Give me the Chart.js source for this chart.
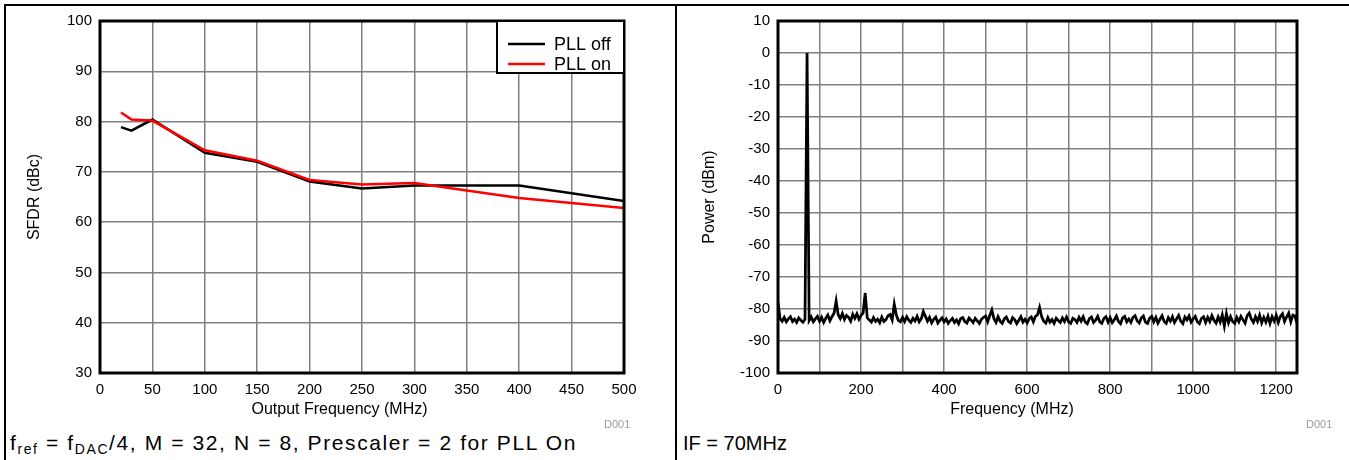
<!DOCTYPE html>
<html>
<head>
<meta charset="utf-8">
<script src="https://cdn.jsdelivr.net/npm/chart.js@4.4.1/dist/chart.umd.min.js"></script>
<style>
  body { margin: 0; background: #fff; font-family: "Liberation Sans", Arial, sans-serif; }
  #page { position: relative; width: 1349px; height: 460px; overflow: hidden; }
  .rule { position: absolute; background: #000; z-index: 2; }
  .box { position: absolute; top: 4px; height: 426px; }
  .note { position: absolute; top: 432px; font-size: 20px; color: #000; white-space: nowrap; }
  .note sub { font-size: 14px; vertical-align: -4px; line-height: 0; }
  .wide { letter-spacing: 1.6px; font-size: 21px; top: 431px; }
  .tag { position: absolute; top: 418px; font-size: 11px; color: #9a9a9a; }
</style>
</head>
<body>
<div id="page">
  <div class="rule" style="left:4px; top:4px; width:1345px; height:1.5px;"></div>
  <div class="rule" style="left:4px; top:4px; width:1.5px; height:456px;"></div>
  <div class="rule" style="left:675px; top:4px; width:1.5px; height:456px;"></div>

  <div class="box" style="left:4px; width:671px;"><canvas id="sfdrChart"></canvas></div>
  <div class="box" style="left:675px; width:674px;"><canvas id="specChart"></canvas></div>

  <div class="tag" style="left:604px;">D001</div>
  <div class="tag" style="left:1306px;">D001</div>
  <div class="note wide" style="left:10px;">f<sub>ref</sub> = f<sub>DAC</sub>/4, M = 32, N = 8, Prescaler = 2 for PLL On</div>
  <div class="note" style="left:683px;">IF = 70MHz</div>
</div>

<script>
// left plot: SFDR vs output frequency
const sfdrFreq   = [20, 30, 50, 100, 150, 200, 250, 300, 400, 500];
const sfdrPllOff = [78.9, 78.2, 80.4, 73.8, 72.0, 68.1, 66.7, 67.3, 67.3, 64.2];
const sfdrPllOn  = [81.8, 80.4, 80.2, 74.3, 72.2, 68.4, 67.5, 67.8, 64.8, 62.8];
const sfdrXTicks = [0, 50, 100, 150, 200, 250, 300, 350, 400, 450, 500];
const sfdrYTicks = [30, 40, 50, 60, 70, 80, 90, 100];

// right plot: output spectrum, one reading every 5 MHz from 0 to 1250 MHz
const specStepMHz = 5;
const specPower = [
  -78, -83, -83.8, -82.6, -84, -83.1, -82.4, -83.9, -83.2, -84.2,           // 0
  -82.8, -83.5, -84.1, -83.2, 0, -83.6, -82.5, -84, -83.1, -82.3,           // 50
  -83.8, -82.6, -84.2, -82.9, -81.9, -83.7, -82.4, -81.3, -77.5, -81.8,     // 100
  -83, -81.4, -83.3, -82, -82.6, -83.8, -81.6, -82.9, -81.5, -83.2,         // 150
  -82, -81.2, -75, -82.8, -83.4, -84.1, -82.7, -83.9, -83.2, -84.3,         // 200
  -82.5, -83.9, -83.3, -82.1, -81.7, -83.4, -78.5, -81.9, -83.6, -84,       // 250
  -82.6, -83.9, -82.4, -83.5, -84.2, -82.9, -83.7, -82.3, -84, -83.1,       // 300
  -80.8, -82.3, -83.8, -82.6, -84.3, -83.2, -82.5, -84.4, -83.5, -82.8,     // 350
  -84, -83.1, -84.5, -83.6, -82.9, -84.2, -83.4, -84.6, -83, -82.7,         // 400
  -83.9, -84.4, -82.8, -83.5, -84.3, -82.9, -83.7, -84.5, -83.2, -82.6,     // 450
  -82.2, -84, -82, -80.3, -83, -84.2, -82.4, -83.8, -84.5, -83.1,           // 500
  -82.5, -83.9, -84.4, -82.7, -83.3, -84.6, -83.5, -82.4, -84.1, -83.2,     // 550
  -84.3, -83, -82.5, -84, -82.3, -81.8, -79.5, -82.4, -83.8, -84.4,         // 600
  -82.7, -84.1, -83.3, -84.5, -82.9, -83.6, -84.2, -82.8, -83.9, -82.5,     // 650
  -84, -84.5, -82.9, -83.3, -84.2, -82.6, -83.8, -82.4, -84.1, -84.6,       // 700
  -83, -82.5, -84.2, -83.5, -82.3, -84, -84.5, -82.9, -82.4, -84.1,         // 750
  -82.7, -84.3, -83.4, -82.2, -83.9, -84.6, -82.8, -82.3, -84, -83.1,       // 800
  -84.2, -82.6, -82.1, -83.7, -84.4, -82.8, -82.2, -84.1, -84.5, -82.9,     // 850
  -82.3, -84, -82.6, -84.4, -83.2, -82.1, -83.9, -84.5, -82.7, -83.8,       // 900
  -82.4, -84.2, -83.1, -82, -83.8, -84.6, -82.5, -83.4, -82.2, -84.1,       // 950
  -83.1, -82.3, -84, -84.6, -82.9, -82.4, -84.2, -82.6, -83.9, -82.1,       // 1000
  -83.5, -84.4, -82.5, -84.1, -81.8, -85.3, -81.4, -84.3, -82.4, -83.9,     // 1050
  -84.5, -82.6, -84, -82.3, -83.4, -84.4, -82.1, -81.3, -83.2, -84.2,       // 1100
  -82.4, -83.9, -81.9, -84.3, -82.6, -84.1, -82.2, -84.5, -82.4, -83.8,     // 1150
  -82, -84.2, -82.3, -81.5, -83.9, -82.5, -81.3, -84, -81.9, -82.2,         // 1200
  -84.5                                                                      // 1250
];
const specXTicks = [0, 100, 200, 300, 400, 500, 600, 700, 800, 900, 1000, 1100, 1200];
const specYTicks = [-100, -90, -80, -70, -60, -50, -40, -30, -20, -10, 0, 10];

Chart.defaults.font.family = '"Liberation Sans", Arial, sans-serif';
Chart.defaults.font.size = 15;
Chart.defaults.color = '#000';

const gridStyle = { color: '#808080', lineWidth: 1.5, drawTicks: false };

// thick black box round the plot area
const plotFrame = {
    id: 'plotFrame',
    afterDatasetsDraw(chart) {
        const { ctx, chartArea: a } = chart;
        ctx.save();
        ctx.strokeStyle = '#000';
        ctx.lineWidth = 3;
        ctx.strokeRect(a.left, a.top, a.right - a.left, a.bottom - a.top);
        ctx.restore();
    }
};

// x axis title, centred on the whole panel like the datasheet does
const panelXTitle = {
    id: 'panelXTitle',
    afterDraw(chart, args, opts) {
        const { ctx, chartArea: a } = chart;
        ctx.save();
        ctx.font = '16px "Liberation Sans", Arial, sans-serif';
        ctx.fillStyle = '#000';
        ctx.textAlign = 'center';
        ctx.textBaseline = 'middle';
        ctx.fillText(opts.text, chart.width / 2, a.bottom + 37);
        ctx.restore();
    }
};

// boxed legend in the top right corner
const boxLegend = {
    id: 'boxLegend',
    afterDraw(chart) {
        const { ctx, chartArea: a } = chart;
        const w = 127, h = 52;
        const x = a.right - w, y = a.top;
        ctx.save();
        ctx.fillStyle = '#fff';
        ctx.fillRect(x, y, w, h);
        ctx.strokeStyle = '#000';
        ctx.lineWidth = 2;
        ctx.strokeRect(x, y, w, h);
        ctx.font = '18px "Liberation Sans", Arial, sans-serif';
        ctx.textBaseline = 'middle';
        chart.data.datasets.forEach((ds, i) => {
            const ly = y + 23 + i * 20;
            ctx.strokeStyle = ds.borderColor;
            ctx.lineWidth = 2.5;
            ctx.beginPath();
            ctx.moveTo(x + 11, ly);
            ctx.lineTo(x + 48, ly);
            ctx.stroke();
            ctx.fillStyle = '#000';
            ctx.fillText(ds.label, x + 57, ly + 1);
        });
        ctx.restore();
    }
};

function setTicks(values) {
    return scale => { scale.ticks = values.map(v => ({ value: v })); };
}

new Chart(document.getElementById('sfdrChart'), {
    type: 'line',
    data: {
        datasets: [{
            label: 'PLL off',
            data: sfdrFreq.map((f, i) => ({ x: f, y: sfdrPllOff[i] })),
            borderColor: '#000',
            borderWidth: 2.5,
            pointRadius: 0,
            tension: 0,
            order: 2
        }, {
            label: 'PLL on',
            data: sfdrFreq.map((f, i) => ({ x: f, y: sfdrPllOn[i] })),
            borderColor: '#ff0000',
            borderWidth: 2.5,
            pointRadius: 0,
            tension: 0,
            order: 1
        }]
    },
    options: {
        responsive: true,
        maintainAspectRatio: false,
        animation: false,
        layout: { padding: { top: 13, right: 51, left: 0, bottom: 0 } },
        plugins: {
            legend: { display: false },
            tooltip: { enabled: false },
            panelXTitle: { text: 'Output Frequency (MHz)' }
        },
        scales: {
            x: {
                type: 'linear',
                min: 0,
                max: 500,
                afterBuildTicks: setTicks(sfdrXTicks),
                afterFit(scale) { scale.height = 57; },
                grid: gridStyle,
                border: { display: false },
                ticks: { padding: 8, maxRotation: 0 }
            },
            y: {
                min: 30,
                max: 100,
                afterBuildTicks: setTicks(sfdrYTicks),
                afterFit(scale) { scale.width = 96; },
                grid: gridStyle,
                border: { display: false },
                ticks: { padding: 8 },
                title: { display: true, text: 'SFDR (dBc)', font: { size: 16 }, padding: { top: 21, bottom: 0 } }
            }
        }
    },
    plugins: [plotFrame, boxLegend, panelXTitle]
});

new Chart(document.getElementById('specChart'), {
    type: 'line',
    data: {
        datasets: [{
            label: 'Power',
            data: specPower.map((p, i) => ({ x: i * specStepMHz, y: p })),
            borderColor: '#000',
            borderWidth: 2.75,
            pointRadius: 0,
            tension: 0
        }]
    },
    options: {
        responsive: true,
        maintainAspectRatio: false,
        animation: false,
        layout: { padding: { top: 13, right: 52, left: 0, bottom: 0 } },
        plugins: {
            legend: { display: false },
            tooltip: { enabled: false },
            panelXTitle: { text: 'Frequency (MHz)' }
        },
        scales: {
            x: {
                type: 'linear',
                min: 0,
                max: 1250,
                afterBuildTicks: setTicks(specXTicks),
                afterFit(scale) { scale.height = 57; },
                grid: gridStyle,
                border: { display: false },
                ticks: {
                    padding: 8,
                    maxRotation: 0,
                    autoSkip: false,
                    callback: v => (v % 200 === 0 ? String(v) : '')
                }
            },
            y: {
                min: -100,
                max: 10,
                afterBuildTicks: setTicks(specYTicks),
                afterFit(scale) { scale.width = 103; },
                grid: gridStyle,
                border: { display: false },
                ticks: { padding: 8 },
                title: { display: true, text: 'Power (dBm)', font: { size: 16 }, padding: { top: 25, bottom: 0 } }
            }
        }
    },
    plugins: [plotFrame, panelXTitle]
});
</script>
</body>
</html>
